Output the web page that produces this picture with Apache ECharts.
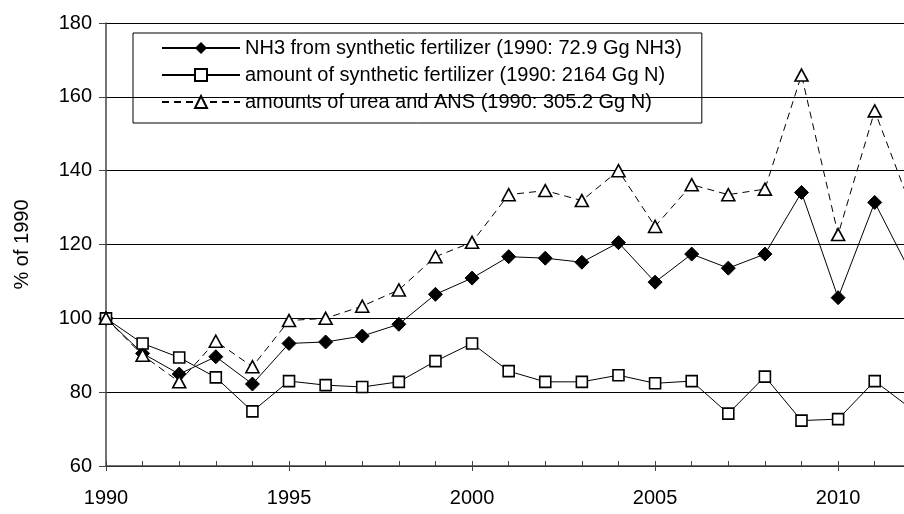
<!DOCTYPE html>
<html>
<head>
<meta charset="utf-8">
<script src="https://cdn.jsdelivr.net/npm/echarts@6/dist/echarts.min.js"></script>
<style>
  html, body { margin: 0; padding: 0; background: #fff; }
  #chart { width: 904px; height: 514px; }
</style>
</head>
<body>
<div id="chart"></div>
<script>
// values (% of 1990)
const years = [1990, 1991, 1992, 1993, 1994, 1995, 1996, 1997, 1998, 1999, 2000, 2001,
  2002, 2003, 2004, 2005, 2006, 2007, 2008, 2009, 2010, 2011, 2012];
const nh3Fert = [100, 90.5, 84.9, 89.6, 82.2, 93.2, 93.6, 95.2, 98.4, 106.5, 110.9, 116.7,
  116.3, 115.2, 120.5, 109.8, 117.4, 113.6, 117.4, 134.1, 105.6, 131.4, 112];
const synthFert = [100, 93.2, 89.4, 84.0, 74.8, 83.0, 81.9, 81.4, 82.8, 88.4, 93.2, 85.7,
  82.8, 82.8, 84.6, 82.4, 83.0, 74.2, 84.2, 72.3, 72.7, 83.0, 75.5];
const ureaAns = [100, 90.0, 82.8, 93.8, 86.9, 99.4, 100, 103.3, 107.7, 116.7, 120.6, 133.5,
  134.6, 131.9, 140.0, 124.9, 136.2, 133.5, 135.0, 165.9, 122.7, 156.2, 130];

const seriesNames = [
  'NH3 from synthetic fertilizer (1990: 72.9 Gg NH3)',
  'amount of synthetic fertilizer (1990: 2164 Gg N)',
  'amounts of urea and ANS (1990: 305.2 Gg N)'
];
const yTicks = { min: 60, max: 180, step: 20 };
// the original figure is cut off on the right a little before 2012
const xRange = { min: 1990, max: 2011.8 };

const font = '"Liberation Sans", Arial, sans-serif';
const pairs = arr => years.map((y, i) => [y, arr[i]]);

const chart = echarts.init(document.getElementById('chart'));
chart.setOption({
  animation: false,
  textStyle: { fontFamily: font, color: '#000' },
  grid: { left: 106, top: 23, bottom: 48, right: 0 },
  legend: {
    orient: 'vertical',
    left: 133,
    top: 33,
    padding: [5, 20, 11, 28],
    borderColor: '#000',
    borderWidth: 1,
    itemWidth: 78,
    itemHeight: 15,
    itemGap: 7,
    textStyle: { fontSize: 20, color: '#000', fontFamily: font, lineHeight: 20 },
    data: seriesNames
  },
  xAxis: [
    {
      type: 'value', min: xRange.min, max: xRange.max, interval: 5,
      axisLine: { lineStyle: { color: '#444', width: 1.5 } },
      axisTick: { inside: false, length: 5, lineStyle: { color: '#444' } },
      axisLabel: {
        fontSize: 20, color: '#000', margin: 22, fontFamily: font,
        showMaxLabel: false, formatter: v => String(v)
      },
      splitLine: { show: false }
    },
    {
      type: 'value', min: xRange.min, max: xRange.max, interval: 1, position: 'bottom',
      axisLine: { show: false },
      axisTick: { inside: true, length: 5, lineStyle: { color: '#444' } },
      axisLabel: { show: false },
      splitLine: { show: false }
    }
  ],
  yAxis: {
    type: 'value', min: yTicks.min, max: yTicks.max, interval: yTicks.step,
    name: '% of 1990',
    nameLocation: 'middle',
    nameGap: 74,
    nameTextStyle: { fontSize: 20, color: '#000', fontFamily: font },
    axisLine: { show: true, lineStyle: { color: '#444', width: 1.5 } },
    axisTick: { show: true, length: 7, lineStyle: { color: '#444' } },
    axisLabel: { fontSize: 20, color: '#000', margin: 14, fontFamily: font },
    splitLine: { lineStyle: { color: '#000', width: 1 } }
  },
  series: [
    {
      name: seriesNames[0], type: 'line', data: pairs(nh3Fert),
      symbol: 'diamond', symbolSize: 14,
      lineStyle: { color: '#000', width: 1 },
      itemStyle: { color: '#000', borderColor: '#000' },
      z: 3
    },
    {
      name: seriesNames[1], type: 'line', data: pairs(synthFert),
      symbol: 'rect', symbolSize: 11,
      lineStyle: { color: '#000', width: 1 },
      itemStyle: { color: '#fff', borderColor: '#000', borderWidth: 1.6 },
      z: 3
    },
    {
      name: seriesNames[2], type: 'line', data: pairs(ureaAns),
      symbol: 'triangle', symbolSize: [13, 12],
      lineStyle: { color: '#000', width: 1, type: [7, 5] },
      itemStyle: { color: '#fff', borderColor: '#000', borderWidth: 1.6 },
      z: 3
    }
  ]
});
</script>
</body>
</html>
